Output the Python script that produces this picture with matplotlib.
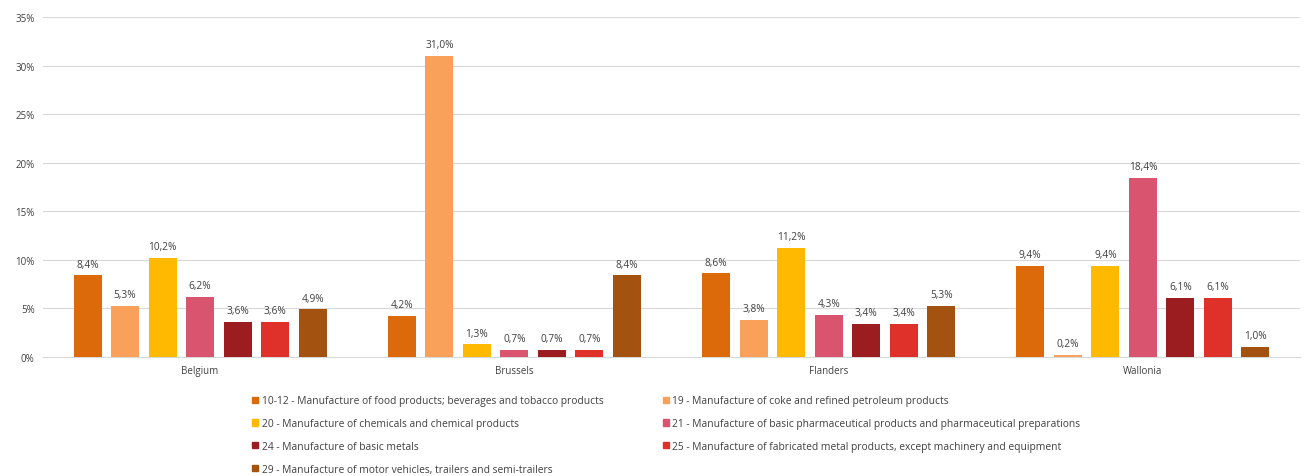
import matplotlib
matplotlib.use("Agg")
import matplotlib.pyplot as plt
import numpy as np
from matplotlib.patches import Patch

regions = ["Belgium", "Brussels", "Flanders", "Wallonia"]
series = [
    "10-12 - Manufacture of food products; beverages and tobacco products",
    "19 - Manufacture of coke and refined petroleum products",
    "20 - Manufacture of chemicals and chemical products",
    "21 - Manufacture of basic pharmaceutical products and pharmaceutical preparations",
    "24 - Manufacture of basic metals",
    "25 - Manufacture of fabricated metal products, except machinery and equipment",
    "29 - Manufacture of motor vehicles, trailers and semi-trailers",
]
values = [
    [8.4, 4.2, 8.6, 9.4],
    [5.3, 31.0, 3.8, 0.2],
    [10.2, 1.3, 11.2, 9.4],
    [6.2, 0.7, 4.3, 18.4],
    [3.6, 0.7, 3.4, 6.1],
    [3.6, 0.7, 3.4, 6.1],
    [4.9, 8.4, 5.3, 1.0],
]
colors = ["#DC6A0A", "#F9A05A", "#FFBA00", "#D9546E", "#9B1D20", "#E0302A", "#A3520F"]
yticks = [0, 5, 10, 15, 20, 25, 30, 35]

plt.rcParams['font.family'] = ['Open Sans', 'DejaVu Sans']
fig = plt.figure(figsize=(13.14, 4.77), dpi=100)
ax = fig.add_axes([43/1314, 1-358/477, (1300-43)/1314, (358-18)/477])

x = np.arange(len(regions))
step = 37.5/314
width = 28/314
n = len(series)
handles = []
for i, (name, vals, c) in enumerate(zip(series, values, colors)):
    pos = x + (i - (n-1)/2) * step
    bars = ax.bar(pos, vals, width=width, color=c, zorder=3)
    for b, v in zip(bars, vals):
        ax.text(b.get_x()+b.get_width()/2, v + 0.6, f"{v:.1f}%".replace('.', ','),
                ha='center', va='bottom', fontsize=7.3, color='#404040')
    handles.append(Patch(color=c, label=name))

ax.set_xlim(-0.5, 3.5)
ax.set_ylim(0, 35)
ax.set_yticks(yticks)
ax.set_yticklabels([f"{t}%" for t in yticks], fontsize=7, color='#404040')
ax.set_xticks(x)
ax.set_xticklabels(regions, fontsize=7, color='#404040')
ax.tick_params(length=0, pad=6)
ax.grid(axis='y', color='#D9D9D9', linewidth=0.8, zorder=0)
for s in ['top', 'right', 'left']:
    ax.spines[s].set_visible(False)
ax.spines['bottom'].set_color('#D9D9D9')

order = [0, 2, 4, 6, 1, 3, 5]
leg = fig.legend([handles[i] for i in order], [series[i] for i in order],
                 ncol=2, loc='upper left', bbox_to_anchor=(243/1314, 1-387/477),
                 frameon=False, fontsize=7.4, handlelength=0.55, handleheight=0.55,
                 handletextpad=0.35, labelspacing=1.15, columnspacing=5.8, labelcolor='#404040')
fig.savefig("out.png", dpi=100)
